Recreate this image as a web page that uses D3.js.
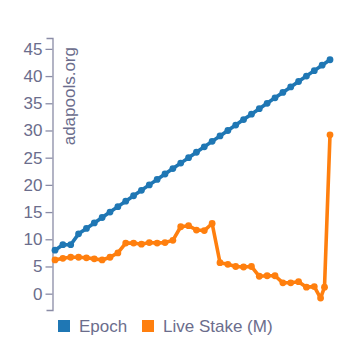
<!DOCTYPE html>
<html>
<head>
<meta charset="utf-8">
<script src="https://cdn.jsdelivr.net/npm/d3@7"></script>
<style>
  html, body { margin: 0; padding: 0; background: #fff; }
  svg { display: block; font-family: "Liberation Sans", Arial, sans-serif; }
</style>
</head>
<body>
<svg id="chart" width="357" height="351"></svg>
<script>
// Epoch vs live stake, adapools.org style line chart.
var epochDays = [0, 5, 10, 15, 20, 25, 30, 35, 40, 45, 50, 55, 60, 65, 70, 75, 80, 85,
                 90, 95, 100, 105, 110, 115, 120, 125, 130, 135, 140, 145, 150, 155, 160, 165, 170, 175];
var epochVals = [8, 9, 9, 11, 12, 13, 14, 15, 16, 17, 18, 19, 20, 21, 22, 23, 24, 25,
                 26, 27, 28, 29, 30, 31, 32, 33, 34, 35, 36, 37, 38, 39, 40, 41, 42, 43];

var stakeDays = [0, 5, 10, 15, 20, 25, 30, 35, 40, 45, 50, 55, 60, 65, 70, 75, 80, 85,
                 90, 95, 100, 105, 110, 115, 120, 125, 130, 135, 140, 145, 150, 155, 160, 165,
                 169, 171.5, 175];
var stakeVals = [6.2, 6.5, 6.7, 6.7, 6.6, 6.4, 6.2, 6.7, 7.5, 9.3, 9.3, 9.1, 9.4, 9.3, 9.4, 9.8,
                 12.3, 12.5, 11.7, 11.6, 12.9, 5.7, 5.4, 5.0, 4.9, 5.0, 3.2, 3.3, 3.3, 2.0, 2.0, 2.2,
                 1.2, 1.3, -0.8, 1.2, 29.2];

var yTicks = [0, 5, 10, 15, 20, 25, 30, 35, 40, 45];
var legendLabels = ['Epoch', 'Live Stake (M)'];
var colors = ['#1f77b4', '#ff7f0e'];

(function () {
    var svg = d3.select('#chart');
    var textCol = '#6b6d8c';
    var axisCol = '#8a8ca6';

    var x = d3.scaleLinear().domain([0, 175]).range([55, 330]);
    var y = d3.scaleLinear().domain([-3, 47]).range([310, 38]);

    // y axis
    var ay = svg.append('g')
        .attr('transform', 'translate(52.5,0)')
        .call(d3.axisLeft(y).tickValues(yTicks).tickSize(7).tickSizeOuter(6).tickPadding(3));
    ay.selectAll('path, line').attr('stroke', axisCol).attr('stroke-width', 1.3);
    ay.selectAll('text')
        .attr('fill', textCol)
        .attr('font-size', 17)
        .attr('font-family', '"Liberation Sans", Arial, sans-serif');

    // watermark
    svg.append('text')
        .attr('transform', 'translate(75,47) rotate(-90)')
        .attr('text-anchor', 'end')
        .attr('font-size', 17)
        .attr('fill', textCol)
        .text('adapools.org');

    var series = [
        { xs: epochDays, ys: epochVals, c: colors[0] },
        { xs: stakeDays, ys: stakeVals, c: colors[1] }
    ];

    series.forEach(function (s) {
        var pts = s.xs.map(function (d, i) { return [d, s.ys[i]]; });
        svg.append('path')
            .datum(pts)
            .attr('fill', 'none')
            .attr('stroke', s.c)
            .attr('stroke-width', 3.6)
            .attr('stroke-linejoin', 'round')
            .attr('d', d3.line().x(function (d) { return x(d[0]); }).y(function (d) { return y(d[1]); }));
        svg.append('g').selectAll('circle')
            .data(pts)
            .enter().append('circle')
            .attr('cx', function (d) { return x(d[0]); })
            .attr('cy', function (d) { return y(d[1]); })
            .attr('r', 3.4)
            .attr('fill', s.c);
    });

    // legend
    var leg = svg.append('g').attr('transform', 'translate(58,320)');
    var offs = [0, 84];
    legendLabels.forEach(function (lab, i) {
        leg.append('rect')
            .attr('x', offs[i]).attr('y', 0)
            .attr('width', 12).attr('height', 12)
            .attr('fill', colors[i]);
        leg.append('text')
            .attr('x', offs[i] + 21).attr('y', 12)
            .attr('font-size', 17)
            .attr('fill', textCol)
            .text(lab);
    });
})();
</script>
</body>
</html>
